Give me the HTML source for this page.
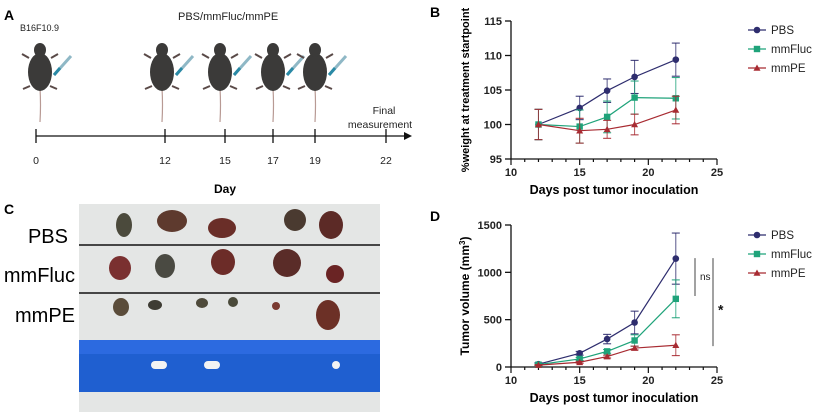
<!DOCTYPE html>
<html><head><meta charset="utf-8"><style>
body{margin:0;background:#fff;}
svg{display:block;font-family:"Liberation Sans",Arial,sans-serif;}
</style></head><body>
<svg id="fig" width="825" height="412" viewBox="0 0 825 412" xmlns="http://www.w3.org/2000/svg">
<g>
<text x="4" y="20" font-size="14" font-weight="bold">A</text>
<text x="20" y="31" font-size="9" fill="#222">B16F10.9</text>
<text x="178" y="20" font-size="11" fill="#222">PBS/mmFluc/mmPE</text>
<g id="mice"></g>
<line x1="36" y1="136" x2="406" y2="136" stroke="#111" stroke-width="1.3"/>
<polygon points="404,132 412,136 404,140" fill="#111"/>
<g id="tl"></g>
<text x="384" y="114" font-size="10.5" text-anchor="middle" fill="#222">Final</text>
<text x="380" y="128" font-size="10.5" text-anchor="middle" fill="#222">measurement</text>
<text x="225" y="193" font-size="12" font-weight="bold" text-anchor="middle">Day</text>
</g>
<g>
<text x="4" y="214" font-size="14" font-weight="bold">C</text>
<rect x="79" y="204" width="301" height="208" fill="#e4e6e5"/>
<rect x="79" y="340" width="301" height="52" fill="#1f5fd0"/>
<rect x="79" y="340" width="301" height="14" fill="#2c6ae0"/>
<rect x="151" y="361" width="16" height="8" rx="4" fill="#f3f3f3"/>
<rect x="204" y="361" width="16" height="8" rx="4" fill="#f3f3f3"/>
<circle cx="336" cy="365" r="4" fill="#f3f3f3"/>
<line x1="79" y1="245" x2="380" y2="245" stroke="#111" stroke-width="1.5"/>
<line x1="79" y1="293" x2="380" y2="293" stroke="#111" stroke-width="1.5"/>
<g id="tumors"></g>
<text x="68" y="243" font-size="20" text-anchor="end">PBS</text>
<text x="75" y="282" font-size="20" text-anchor="end">mmFluc</text>
<text x="75" y="322" font-size="20" text-anchor="end">mmPE</text>
</g>
<g id="chartB"></g>
<g id="chartD"></g>
</svg>
<script>
const days=[12,15,17,19,22];
const seriesNames=["PBS","mmFluc","mmPE"];
const colors=["#2e2d6e","#1fa37a","#a82b32"];
const weightPBS=[100,102.4,104.9,106.9,109.4];
const weightPBSerr=[2.2,1.7,1.7,2.4,2.4];
const weightFluc=[100,99.7,101.1,103.9,103.8];
const weightFlucErr=[2.2,2.4,2.3,2.4,3.0];
const weightPE=[100,99.1,99.3,100,102.1];
const weightPEerr=[2.2,1.8,1.3,1.5,2.0];
const volPBS=[30,145,295,470,1145];
const volPBSerr=[15,20,50,120,270];
const volFluc=[25,85,165,280,720];
const volFlucErr=[10,15,20,60,200];
const volPE=[20,50,110,200,230];
const volPEerr=[5,10,15,20,110];
const xTicks=[10,15,20,25];
const yTicksB=[95,100,105,110,115];
const yTicksD=[0,500,1000,1500];
const timelineDays=[0,12,15,17,19,22];

const NS="http://www.w3.org/2000/svg";
function mk(tag,attrs,parent,text){const e=document.createElementNS(NS,tag);for(const k in attrs)e.setAttribute(k,attrs[k]);if(text!==undefined)e.textContent=text;parent.appendChild(e);return e;}

const tl=document.getElementById('tl');
const tlPos={0:36,12:165,15:225,17:273,19:315,22:386};
timelineDays.forEach(d=>{
  const x=tlPos[d];
  const t=mk('line',{x1:x,y1:129,x2:x,y2:143,stroke:'#111','stroke-width':1.3},tl);
  
  
  const l=mk('text',{x:x,y:164,'font-size':10.5,'text-anchor':'middle',fill:'#222'},tl,String(d));
  
  
});
const mice=document.getElementById('mice');
[40,162,220,273,315].forEach(cx=>{
  const g=mk('g',{},mice);
  
  
  mk('path',{d:`M${cx} 88 Q${cx+1} 105 ${cx} 122`,stroke:'#b89a94','stroke-width':1.2,fill:'none'},g);
  mk('ellipse',{cx:cx,cy:72,rx:12,ry:19,fill:'#3b3a39'},g);
  mk('ellipse',{cx:cx,cy:50,rx:6,ry:7,fill:'#3b3a39'},g);
  mk('path',{d:`M${cx-11} 58 l-7 -4 M${cx+11} 58 l7 -4 M${cx-10} 86 l-7 3 M${cx+10} 86 l7 3`,stroke:'#5a4a48','stroke-width':2},g);
  mk('line',{x1:cx+14,y1:75,x2:cx+31,y2:56,stroke:'#8fb8c6','stroke-width':3},g);
  mk('line',{x1:cx+14,y1:75,x2:cx+20,y2:68,stroke:'#2a8aa6','stroke-width':3},g);
});
const tum=document.getElementById('tumors');
[[124,225,8,12,'#4b4a3c'],[172,221,15,11,'#5e3a2e'],[222,228,14,10,'#6a2e28'],[295,220,11,11,'#4a3a30'],[331,225,12,14,'#5c2a26'],
 [120,268,11,12,'#7a3030'],[165,266,10,12,'#4a4a42'],[223,262,12,13,'#6c2c28'],[287,263,14,14,'#5a2c28'],[335,274,9,9,'#6a2424'],
 [121,307,8,9,'#5a4c3a'],[155,305,7,5,'#3e3c34'],[202,303,6,5,'#4e4a3a'],[233,302,5,5,'#4a4a3a'],[276,306,4,4,'#7a3a30'],[328,315,12,15,'#6c3026']
].forEach(t=>{
  const e=mk('ellipse',{cx:t[0],cy:t[1],rx:t[2],ry:t[3],fill:t[4]},tum);
  
  
});

function chart(gid,label,yTicks,ymin,ymax,y0,y1,series,errs,ytitle,legendY,sup){
  const g=document.getElementById(gid);
  const X=v=>511+(v-10)*(717-511)/15;
  const Y=v=>y0-(v-ymin)*(y0-y1)/(ymax-ymin);
  mk('text',{x:430,y:y1-4,'font-size':14,'font-weight':'bold'},g,label);
  const ax=mk('g',{},g);
  
  
  mk('line',{x1:511,y1:Y(ymax),x2:511,y2:y0,stroke:'#111','stroke-width':1.3},ax);
  mk('line',{x1:511,y1:y0,x2:717,y2:y0,stroke:'#111','stroke-width':1.3},ax);
  yTicks.forEach(v=>{
    mk('line',{x1:505,y1:Y(v),x2:511,y2:Y(v),stroke:'#111','stroke-width':1.3},ax);
    const t=mk('text',{x:502,y:Y(v)+4,'font-size':11,'font-weight':'bold','text-anchor':'end',fill:'#222'},ax,String(v));
    
    
  });
  for(let v=10;v<=25;v++){
    const major=v%5===0;
    mk('line',{x1:X(v),y1:y0,x2:X(v),y2:y0+(major?6:3),stroke:'#111','stroke-width':1.2},ax);
  }
  xTicks.forEach(v=>{
    const t=mk('text',{x:X(v),y:y0+17,'font-size':11,'font-weight':'bold','text-anchor':'middle',fill:'#222'},ax,String(v));
    
    
  });
  const xt=mk('text',{x:614,y:y0+35,'font-size':12.5,'font-weight':'bold','text-anchor':'middle'},g,'Days post tumor inoculation');
  
  
  const yt=mk('text',{transform:`translate(469,${(y0+Y(ymax))/2}) rotate(-90)`,'font-size':sup?12:11,'font-weight':'bold','text-anchor':'middle'},g);
  
  
  if(sup){yt.textContent='Tumor volume (mm';mk('tspan',{dy:-4,'font-size':8},yt,'3');mk('tspan',{dy:4},yt,')');}
  else yt.textContent=ytitle;
  series.forEach((s,i)=>{
    const c=colors[i];
    const sg=mk('g',{},g);
    
    
    days.forEach((d,j)=>{
      const x=X(d),hi=Y(s[j]+errs[i][j]),lo=Y(s[j]-errs[i][j]);
      mk('line',{x1:x,y1:hi,x2:x,y2:lo,stroke:c,'stroke-width':1,opacity:0.8},sg);
      mk('line',{x1:x-4,y1:hi,x2:x+4,y2:hi,stroke:c,'stroke-width':1},sg);
      mk('line',{x1:x-4,y1:lo,x2:x+4,y2:lo,stroke:c,'stroke-width':1},sg);
    });
    mk('polyline',{points:days.map((d,j)=>X(d)+','+Y(s[j])).join(' '),fill:'none',stroke:c,'stroke-width':1.2},sg);
    days.forEach((d,j)=>{
      const x=X(d),y=Y(s[j]);let m;
      if(i===0)m=mk('circle',{cx:x,cy:y,r:3.3,fill:c},sg);
      else if(i===1)m=mk('rect',{x:x-3.2,y:y-3.2,width:6.4,height:6.4,fill:c},sg);
      else m=mk('polygon',{points:`${x},${y-3.5} ${x+3.5},${y+2.8} ${x-3.5},${y+2.8}`,fill:c},sg);
      
      
    });
  });
  seriesNames.forEach((n,i)=>{
    const ly=legendY+i*19,c=colors[i];
    const lg=mk('g',{},g);
    
    
    mk('line',{x1:748,y1:ly,x2:766,y2:ly,stroke:c,'stroke-width':1.2},lg);
    if(i===0)mk('circle',{cx:757,cy:ly,r:3.3,fill:c},lg);
    else if(i===1)mk('rect',{x:753.8,y:ly-3.2,width:6.4,height:6.4,fill:c},lg);
    else mk('polygon',{points:`757,${ly-3.5} 760.5,${ly+2.8} 753.5,${ly+2.8}`,fill:c},lg);
    mk('text',{x:771,y:ly+4,'font-size':11.5,fill:'#222'},lg,n);
  });
  return {X,Y,g};
}
chart('chartB','B',yTicksB,95,115,159,21,[weightPBS,weightFluc,weightPE],[weightPBSerr,weightFlucErr,weightPEerr],'%weight at treatment startpoint',30,false);
const D=chart('chartD','D',yTicksD,0,1500,367,225,[volPBS,volFluc,volPE],[volPBSerr,volFlucErr,volPEerr],'',235,true);
const sg=mk('g',{},D.g);


mk('line',{x1:695,y1:D.Y(1150),x2:695,y2:D.Y(750),stroke:'#444','stroke-width':1},sg);
mk('text',{x:700,y:D.Y(960)+4,'font-size':10,fill:'#222'},sg,'ns');
mk('line',{x1:713,y1:D.Y(1150),x2:713,y2:D.Y(220),stroke:'#444','stroke-width':1},sg);
mk('text',{x:718,y:D.Y(640)+8,'font-size':14,'font-weight':'bold',fill:'#111'},sg,'*');
</script>
</body></html>
